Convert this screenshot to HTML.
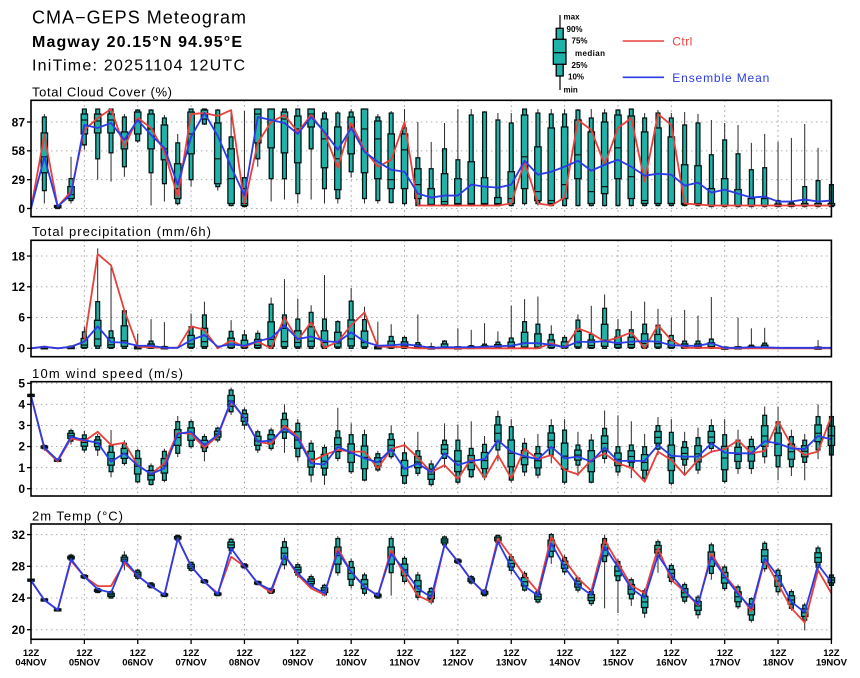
<!DOCTYPE html>
<html><head><meta charset="utf-8">
<style>
html,body{margin:0;padding:0;background:#fff;}
svg{display:block;}
text{font-family:"Liberation Sans",sans-serif;}
</style></head><body>
<svg id="s" width="860" height="678" viewBox="0 0 860 678" xmlns="http://www.w3.org/2000/svg">
<rect width="860" height="678" fill="#fff"/>
<g id="grid"></g>
<g id="data"></g>
<g id="frames" fill="none" stroke="#000" stroke-width="1.6">
<rect x="31" y="100.3" width="800.4" height="116.4"/>
<rect x="31" y="240.3" width="800.4" height="116.4"/>
<rect x="31" y="381.7" width="800.4" height="114.3"/>
<rect x="31" y="524" width="800.4" height="115.3"/>
</g>
<g id="ticks" stroke="#000" stroke-width="1.3"></g>

<text x="32" y="23.3" font-size="18" textLength="214" lengthAdjust="spacing">CMA−GEPS Meteogram</text>
<text x="32" y="47" font-size="16" font-weight="bold" textLength="210" lengthAdjust="spacing">Magway 20.15°N 94.95°E</text>
<text x="32" y="70.5" font-size="16" textLength="213" lengthAdjust="spacing">IniTime: 20251104 12UTC</text>

<text x="32" y="96.5" font-size="13" textLength="140" lengthAdjust="spacing">Total Cloud Cover (%)</text>
<text x="32" y="236" font-size="13" textLength="179" lengthAdjust="spacing">Total precipitation (mm/6h)</text>
<text x="32" y="378" font-size="13" textLength="151" lengthAdjust="spacing">10m wind speed (m/s)</text>
<text x="32" y="520.5" font-size="13" textLength="91" lengthAdjust="spacing">2m Temp (°C)</text>

<g font-size="12" font-weight="bold" text-anchor="end">
<text x="25" y="126.5">87</text>
<text x="25" y="155">58</text>
<text x="25" y="184">29</text>
<text x="25" y="212.8">0</text>
<text x="25" y="260.5">18</text>
<text x="25" y="291">12</text>
<text x="25" y="321.6">6</text>
<text x="25" y="352.6">0</text>
<text x="25" y="387.6">5</text>
<text x="25" y="408.6">4</text>
<text x="25" y="429.6">3</text>
<text x="25" y="450.7">2</text>
<text x="25" y="471.8">1</text>
<text x="25" y="493">0</text>
<text x="25" y="539">32</text>
<text x="25" y="570.4">28</text>
<text x="25" y="602">24</text>
<text x="25" y="634">20</text>
</g>

<g font-size="9.5" font-weight="bold" text-anchor="middle">
<text x="31" y="656">12Z</text><text x="31" y="665.5">04NOV</text>
<text x="84.4" y="656">12Z</text><text x="84.4" y="665.5">05NOV</text>
<text x="137.8" y="656">12Z</text><text x="137.8" y="665.5">06NOV</text>
<text x="191.1" y="656">12Z</text><text x="191.1" y="665.5">07NOV</text>
<text x="244.5" y="656">12Z</text><text x="244.5" y="665.5">08NOV</text>
<text x="297.9" y="656">12Z</text><text x="297.9" y="665.5">09NOV</text>
<text x="351.3" y="656">12Z</text><text x="351.3" y="665.5">10NOV</text>
<text x="404.7" y="656">12Z</text><text x="404.7" y="665.5">11NOV</text>
<text x="458" y="656">12Z</text><text x="458" y="665.5">12NOV</text>
<text x="511.4" y="656">12Z</text><text x="511.4" y="665.5">13NOV</text>
<text x="564.8" y="656">12Z</text><text x="564.8" y="665.5">14NOV</text>
<text x="618.2" y="656">12Z</text><text x="618.2" y="665.5">15NOV</text>
<text x="671.6" y="656">12Z</text><text x="671.6" y="665.5">16NOV</text>
<text x="724.9" y="656">12Z</text><text x="724.9" y="665.5">17NOV</text>
<text x="778.3" y="656">12Z</text><text x="778.3" y="665.5">18NOV</text>
<text x="831.4" y="656">12Z</text><text x="831.4" y="665.5">19NOV</text>
</g>

<!-- legend -->
<line x1="560" y1="15" x2="560" y2="90" stroke="#000" stroke-width="1.2"/>
<rect x="556.2" y="28.3" width="7" height="47.7" fill="#20b2a8" stroke="#000" stroke-width="1.3"/>
<rect x="553.3" y="39.3" width="12.7" height="25" fill="#20b2a8" stroke="#000" stroke-width="1.3"/>
<line x1="553.3" y1="52.7" x2="566" y2="52.7" stroke="#000" stroke-width="1.2"/>
<g font-size="8" font-weight="bold">
<text x="563.5" y="19.5">max</text>
<text x="566.5" y="32">90%</text>
<text x="571.5" y="43.5">75%</text>
<text x="575" y="55.8" textLength="30" lengthAdjust="spacing">median</text>
<text x="571.5" y="68">25%</text>
<text x="568" y="79.5">10%</text>
<text x="563.5" y="92.5">min</text>
</g>
<line x1="622.7" y1="41" x2="664" y2="41" stroke="#e8403c" stroke-width="1.6"/>
<text x="672.3" y="45.5" font-size="12" fill="#e8403c" textLength="20" lengthAdjust="spacing">Ctrl</text>
<line x1="622.7" y1="77.3" x2="664" y2="77.3" stroke="#2b3be6" stroke-width="1.6"/>
<text x="672.3" y="81.8" font-size="12" fill="#2b3be6" textLength="97" lengthAdjust="spacing">Ensemble Mean</text>
</svg>
<script>
(function(){
const NS="http://www.w3.org/2000/svg";
const X0=31, DX=800.4/60, X1=X0+800.4;
function el(tag,a,p){const e=document.createElementNS(NS,tag);for(const k in a)e.setAttribute(k,a[k]);p.appendChild(e);return e;}
const G=document.getElementById('data'), GR=document.getElementById('grid'), TK=document.getElementById('ticks');
const xi=i=>X0+i*DX;
const panels=[
 {top:100.3,bot:216.7,f:v=>208.5-v*0.9943,ticks:[0,29,58,87]},
 {top:240.3,bot:356.7,f:v=>348.3-v*5.125,ticks:[0,6,12,18]},
 {top:381.7,bot:496,f:v=>488.7-v*21.08,ticks:[0,1,2,3,4,5]},
 {top:524,bot:639.3,f:v=>629.7-(v-20)*7.925,ticks:[20,24,28,32]}
];
panels.forEach(p=>{
  for(let k=1;k<15;k++){const x=X0+k*DX*4;
    el('line',{x1:x,y1:p.top,x2:x,y2:p.bot,stroke:'#9a9a9a','stroke-width':1,'stroke-dasharray':'1.4,3.6'},GR);}
  p.ticks.forEach(t=>{const y=p.f(t);
    el('line',{x1:X0,y1:y,x2:X1,y2:y,stroke:'#a8a8a8','stroke-width':1,'stroke-dasharray':'1.4,3.6'},GR);
    el('line',{x1:X0-4,y1:y,x2:X0,y2:y},TK);});
});
for(let k=0;k<=15;k++){const x=X0+k*DX*4;el('line',{x1:x,y1:639.3,x2:x,y2:644},TK);}

const FILL='#20b2a8', STK='#061513';
function drawBox(x,q,f){
  if(!q)return;
  const [mn,p10,p25,md,p75,p90,mx]=q;
  el('line',{x1:x,y1:f(mx),x2:x,y2:f(mn),stroke:'#2a2a2a','stroke-width':1},G);
  let y1=f(p90),y2=f(p10); if(y2-y1<2){const c=(y1+y2)/2;y1=c-1;y2=c+1;}
  el('rect',{x:x-1.9,y:y1,width:3.8,height:y2-y1,fill:FILL,stroke:STK,'stroke-width':1.3},G);
  let z1=f(p75),z2=f(p25); if(z2-z1<2){const c=(z1+z2)/2;z1=c-1;z2=c+1;}
  el('rect',{x:x-3.2,y:z1,width:6.4,height:z2-z1,fill:FILL,stroke:STK,'stroke-width':1.3},G);
  el('line',{x1:x-3.2,y1:f(md),x2:x+3.2,y2:f(md),stroke:STK,'stroke-width':1.2},G);
}
function q4(a){if(!a)return null;const [mn,lo,hi,mx]=a;return [mn,lo,lo+0.25*(hi-lo),(lo+hi)/2,lo+0.75*(hi-lo),hi,mx];}
function qp(a){if(!a)return null;const [mx,t]=a;if(mx<=0)return null;return [0,0,0.05*t,0.2*t,0.6*t,t,mx];}
function line(vals,f,col){
  const pts=vals.map((v,i)=>xi(i).toFixed(2)+','+f(v).toFixed(2)).join(' ');
  el('polyline',{points:pts,fill:'none',stroke:col,'stroke-width':1.8,'stroke-linejoin':'round'},G);
}
const RED='#e8403c', BLUE='#2b3be6';

// ---- Cloud ----
const cB=[null,[5,18,36,52,76,92,95],[0,0,1,2,3,3,4],[5,8,10,14,22,30,52],[59,64,75,89,95,100,100],[29,50,76,88,95,100,100],[27,56,76,89,95,100,100],[32,42,60,70,77,92,95],[66,68,75,88,97,99,100],[3,36,60,80,95,99,100],[7,25,49,60,84,91,94],[3,5,10,20,45,66,75],[22,29,55,75,97,100,100],[84,85,90,95,99,100,100],[18,22,25,50,86,99,100],[2,3,5,30,60,72,98],[1,2,3,5,20,31,98],[42,50,66,95,100,100,100],[7,30,61,89,100,100,100],[9,30,56,90,97,100,100],[5,15,46,80,93,100,100],[9,60,82,95,100,100,100],[5,20,41,70,90,96,98],[5,10,19,50,82,96,98],[31,37,55,82,92,97,100],[5,10,36,80,100,100,100],[5,8,30,70,88,92,95],[5,6,20,29,75,96,98],[3,5,20,59,75,81,100],[2,3,10,24,40,51,87],[2,3,4,4,20,40,67],[2,3,4,7,35,60,86],[2,3,4,5,30,49,100],[2,3,4,5,47,94,100],[2,3,4,5,31,97,98],[2,3,4,5,11,89,96],[2,3,5,10,37,86,96],[3,5,20,52,94,100,100],[3,5,8,17,62,96,100],[2,3,5,8,81,95,100],[2,3,10,24,82,95,100],[2,3,30,54,89,99,100],[2,3,5,17,77,91,100],[2,3,15,22,87,96,100],[2,3,30,61,94,99,100],[2,3,10,32,93,100,100],[2,3,5,8,77,91,96],[2,3,5,5,81,96,99],[2,3,5,5,72,91,96],[2,3,4,5,44,84,97],[2,3,4,5,43,86,95],[1,2,3,3,20,54,89],[1,2,3,3,30,69,86],[1,2,3,3,19,55,84],[1,2,3,3,10,39,66],[1,2,3,3,10,41,75],[1,2,3,3,4,8,67],[1,2,3,3,4,6,71],[1,2,3,3,5,22,85],[1,2,3,3,5,28,61],[1,2,3,3,5,24,30]];
const cR=[0,74,2,17,79,91,100,62,91,81,57,12,95,96,93,99,5,66,87,94,77,94,76,41,86,59,42,49,87,3,3,3,3,3,3,3,5,47,5,3,11,89,79,44,81,91,27,95,84,5,4,3,3,3,3,3,3,3,3,3,3];
const cM=[0,52,2,14,84,81,86,69,89,74,61,24,72,96,73,42,13,92,89,86,75,92,77,59,81,57,47,39,37,15,11,13,13,24,22,21,24,48,34,37,42,48,38,44,49,42,33,35,34,23,26,16,19,15,11,12,7,7,9,7,8];
const P=panels;
cB.forEach((q,i)=>drawBox(xi(i),q,P[0].f));
line(cR,P[0].f,RED); line(cM,P[0].f,BLUE);

// ---- Precip ----
const pB=[null,[0.5,0.3],null,[0.6,0.4],[4.2,3.2],[19.5,9.1],[15.9,3.4],[7.3,7.3],[2.9,0.3],[5.7,1.4],[5.1,0.3],null,[6.8,4.2],[9.1,6.5],null,[5.5,3.3],[3.6,2.6],[3.5,2.9],[9.9,8.6],[13.5,6.5],[9.7,5.7],[8.4,7.0],[14.3,5.7],[5.5,5.2],[11.8,9.2],[8.1,5.6],[5.2,0.3],[4.7,2.3],[2.5,2.1],[6.6,1.1],[1.1,0.2],[1.6,1.4],[3.9,0.2],[3.6,0.5],[4.9,0.8],[3.3,1.2],[8.3,2.0],[9.6,5.2],[10.1,4.7],[4.5,2.7],[2.6,2.1],[6.6,5.5],[8.3,2.7],[10.5,7.8],[5.7,3.6],[7.3,3.6],[9.1,4.7],[7.7,4.5],[6.0,2.5],[7.5,1.4],[6.4,1.4],[10,1.8],[0.2,0.1],[6.0,0.2],[3.9,0.6],[4.0,1.0],null,null,null,[1.6,0.1],null];
const pR=[0,0.3,0,0.3,1.3,18.4,16.2,7.4,0.3,0.2,0.1,0.1,4.3,3.6,0,1.5,0.3,1.3,0,6.0,1.6,5.1,0.1,1.3,4.5,7.0,0.3,0.3,0.2,0,0,0,0,0,0,0,0,0,0,1.0,0.1,3.9,2.9,1.3,2.1,3.1,0,4.5,1.6,0.1,0.1,0.1,0,0,0,0,0,0,0,0,0];
const pM=[0,0.3,0,0.3,1.3,4.3,1.2,1.1,0.5,0.5,0.1,0.1,1.6,2.6,0.3,0.8,0.5,1.4,2.0,4.5,1.8,2.3,1.4,1.2,3.1,1.3,0.5,0.6,0.8,0.5,0.1,0.2,0.2,0.2,0.3,0.4,0.5,1.0,1.0,0.7,0.2,1.3,1.2,1.4,1.0,1.3,1.4,1.3,0.6,0.5,0.5,1.0,0.1,0.1,0.2,0.2,0.1,0.1,0.1,0.1,0.1];
pB.forEach((a,i)=>drawBox(xi(i),qp(a),P[1].f));
line(pR,P[1].f,RED); line(pM,P[1].f,BLUE);

// ---- Wind ----
const wB=[[4.35,4.4,4.45,4.5],[1.8,1.9,2.05,2.1],[1.25,1.3,1.4,1.45],[2.1,2.26,2.75,2.85],[1.7,1.84,2.55,2.75],[1.55,1.84,2.47,2.6],[0.54,0.81,2.03,2.78],[1.1,1.2,2.15,2.3],[0.25,0.33,1.8,1.9],[0.15,0.2,1.08,1.2],[0.3,0.4,1.77,1.9],[1.5,1.68,3.18,3.45],[1.9,2.0,3.18,3.3],[1.3,1.77,2.47,2.6],[2.2,2.31,2.87,2.95],[3.5,3.65,4.68,4.8],[2.8,3.02,3.73,3.85],[1.7,1.84,2.7,2.8],[1.8,1.91,2.78,2.9],[1.7,2.39,3.58,4.0],[1.3,1.52,3.1,3.3],[0.3,0.65,2.15,2.3],[0.18,0.65,1.95,2.1],[1.3,1.44,2.74,3.84],[0.7,0.81,2.56,3.1],[0.35,0.41,2.56,2.8],[0.8,0.89,1.66,1.8],[1.4,1.52,2.6,3.0],[0.2,0.26,1.7,2.2],[0.6,0.73,1.8,2.7],[0.1,0.2,1.17,1.35],[1.0,1.44,2.3,3.1],[0.2,0.31,2.3,3.05],[0.5,0.57,1.91,3.2],[0.4,0.57,2.1,2.5],[1.3,1.84,3.42,3.7],[0.3,0.41,2.94,3.3],[0.6,0.8,2.15,2.4],[0.5,0.65,2.0,2.6],[1.2,1.6,2.99,3.3],[0.2,0.31,2.78,3.3],[0.6,1.12,2.07,2.7],[0.25,0.31,2.3,2.6],[1.2,1.44,2.86,3.71],[0.6,0.8,1.99,3.48],[0.5,0.99,2.07,3.2],[0.3,0.5,1.99,2.6],[1.6,1.88,2.99,3.4],[0.15,0.26,2.67,3.3],[0.6,1.12,2.23,2.7],[0.7,0.89,2.42,2.9],[1.7,1.91,2.99,3.3],[0.25,0.35,2.56,3.3],[0.7,0.96,2.3,2.8],[0.7,0.96,2.34,2.5],[1.2,1.52,3.48,3.9],[0.4,1.04,3.17,3.9],[0.6,1.04,2.47,2.8],[0.4,1.25,2.3,2.6],[1.4,1.84,3.42,4.0],[1.4,1.6,3.42,3.6]];
const wR=[4.4,1.9,1.3,2.39,2.25,2.7,2.07,2.18,1.12,0.7,1.2,2.66,2.6,1.95,2.5,4.13,3.35,2.23,2.12,2.99,2.47,1.28,1.6,1.84,1.76,1.76,0.97,1.88,2.07,1.47,0.78,1.12,0.46,1.44,0.5,1.6,0.5,1.88,1.4,1.6,0.89,0.68,1.36,1.68,1.2,0.99,0.33,1.76,1.36,0.65,1.36,1.76,1.88,2.3,1.68,1.79,3.2,2.07,1.6,1.76,3.45];
const wM=[4.4,1.95,1.35,2.47,2.3,2.18,1.28,1.68,1.1,0.7,0.97,2.6,2.7,2.07,2.55,4.18,3.34,2.23,2.28,2.86,2.39,1.2,1.15,1.99,1.71,1.44,1.25,1.88,0.93,1.2,0.78,1.68,1.12,1.32,1.4,2.3,1.75,1.54,1.4,1.99,1.44,1.52,1.28,1.95,1.32,1.32,1.32,2.07,1.56,1.52,1.52,2.15,1.71,1.68,1.68,2.25,2.15,1.91,1.88,2.5,2.34];
wB.forEach((a,i)=>drawBox(xi(i),q4(a),P[2].f));
line(wR,P[2].f,RED); line(wM,P[2].f,BLUE);

// ---- Temp ----
const tB=[[26.1,26.2,26.3,26.4],[23.65,23.7,23.8,23.85],[22.4,22.45,22.55,22.6],[28.6,28.8,29.4,29.6],[26.4,26.5,26.9,27.0],[24.6,24.7,25.2,25.3],[23.9,24.0,24.8,25.0],[27.5,28.4,29.4,29.9],[26.3,26.5,27.5,27.7],[25.2,25.3,25.9,26.0],[24.1,24.2,24.6,24.7],[31.2,31.3,31.9,32.0],[27.3,27.5,28.5,28.6],[25.8,25.9,26.3,26.4],[24.2,24.3,24.7,24.8],[29.5,30.0,31.4,31.6],[27.7,27.8,28.3,28.4],[25.6,25.7,26.1,26.2],[24.5,24.6,25.2,25.3],[27.6,28.2,31.1,31.6],[26.5,26.9,28.2,28.5],[25.2,25.5,26.7,27.0],[24.2,24.4,25.6,25.8],[26.8,27.2,31.5,31.8],[25.2,25.6,28.6,29.0],[24.3,24.6,26.9,27.2],[23.9,24.0,24.6,24.7],[24.3,27.2,31.5,31.8],[25.8,26.1,29.0,29.3],[23.7,24.1,26.9,27.3],[23.2,23.5,25.2,25.4],[30.5,30.7,31.7,31.9],[28.3,28.4,28.9,29.0],[25.7,25.9,26.7,26.9],[24.2,24.3,25.0,25.1],[30.8,31.0,31.9,32.0],[27.0,27.5,29.2,29.6],[24.8,25.0,27.1,27.4],[23.3,23.5,24.8,25.0],[28.3,29.2,32.0,32.2],[26.9,27.3,29.1,29.4],[24.7,25.0,26.5,26.7],[23.0,23.3,24.8,25.1],[22.7,28.6,31.5,32.0],[22.1,26.2,28.6,29.0],[23.0,23.9,26.3,26.6],[21.5,22.1,24.9,25.2],[27.2,29.2,31.1,31.4],[25.8,26.1,28.1,28.4],[23.3,23.6,25.7,26.0],[21.4,21.9,24.1,24.4],[26.3,27.1,30.7,31.0],[24.9,25.2,27.9,28.2],[22.6,22.9,25.4,25.7],[20.9,21.2,23.9,24.1],[27.3,27.7,30.9,31.2],[24.3,24.8,27.5,27.8],[22.4,22.7,24.8,25.1],[19.9,21.2,23.1,23.4],[27.6,27.9,30.3,30.6],[25.4,25.6,26.9,27.2]];
const tR=[26.2,23.75,22.5,28.7,26.7,25.5,25.5,28.45,26.8,25.5,24.4,31.5,28.0,26.05,24.6,29.2,28.0,25.85,24.7,29.4,26.9,25.2,24.4,30.27,27.3,25.4,24.3,30.05,26.9,24.3,23.5,30.7,28.6,26.27,24.6,31.5,29.2,26.8,24.8,31.7,28.8,26.5,24.9,31.3,28.4,25.6,24.6,30.3,26.3,24.8,23.1,29.6,26.9,24.8,22.3,28.8,25.8,22.7,20.9,27.5,24.6];
const tM=[26.2,23.75,22.5,28.9,26.7,25.1,24.67,28.8,26.8,25.5,24.4,31.5,28.0,26.05,24.45,30.27,28.0,25.85,25.0,29.4,27.1,25.5,24.6,29.85,27.3,25.4,24.3,29.6,27.5,25.2,24.1,30.7,28.6,26.27,24.6,31.1,27.9,25.5,24.3,30.9,27.9,25.6,24.4,30.5,27.9,25.2,24.0,29.4,26.9,24.9,23.2,29.2,26.7,24.5,22.7,29.0,26.7,23.5,22.2,28.2,26.0];
tB.forEach((a,i)=>drawBox(xi(i),q4(a),P[3].f));
line(tR,P[3].f,RED); line(tM,P[3].f,BLUE);
})();
</script>
</body></html>
